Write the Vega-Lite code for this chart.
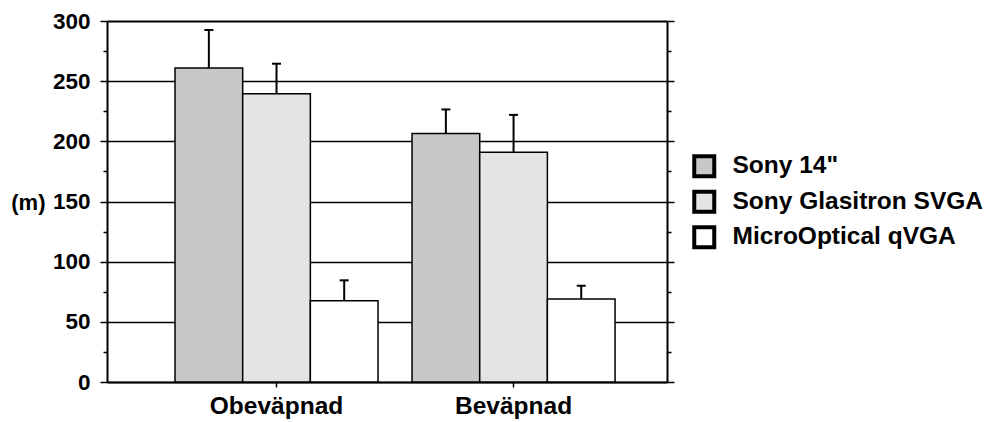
{
  "$schema": "https://vega.github.io/schema/vega-lite/v6.json",
  "width": 560,
  "height": 361,
  "autosize": "none",
  "padding": {"left": 107, "top": 21, "right": 321, "bottom": 40},
  "background": "white",
  "config": {"view": {"stroke": null}, "font": "Liberation Sans"},
  "data": {
    "values": [
      {"cond": "Obeväpnad", "display": "Sony 14\"", "value": 261, "upper": 292.5},
      {"cond": "Obeväpnad", "display": "Sony Glasitron SVGA", "value": 239.5, "upper": 264.5},
      {"cond": "Obeväpnad", "display": "MicroOptical qVGA", "value": 67.5, "upper": 84.5},
      {"cond": "Beväpnad", "display": "Sony 14\"", "value": 206.5, "upper": 226.5},
      {"cond": "Beväpnad", "display": "Sony Glasitron SVGA", "value": 191, "upper": 222},
      {"cond": "Beväpnad", "display": "MicroOptical qVGA", "value": 69, "upper": 80}
    ]
  },
  "encoding": {
    "x": {
      "field": "cond",
      "type": "nominal",
      "sort": ["Obeväpnad", "Beväpnad"],
      "scale": {"paddingInner": 0.1435, "paddingOuter": 0.253, "align": 0.567},
      "axis": {
        "title": null,
        "labelAngle": 0,
        "labelFont": "Liberation Sans",
        "labelFontSize": 24.5,
        "labelFontWeight": "bold",
        "labelColor": "black",
        "labelPadding": 7,
        "tickSize": 5,
        "tickColor": "black",
        "tickWidth": 1.5,
        "domainColor": "black",
        "domainWidth": 2
      }
    },
    "xOffset": {
      "field": "display",
      "type": "nominal",
      "sort": ["Sony 14\"", "Sony Glasitron SVGA", "MicroOptical qVGA"],
      "scale": {"paddingInner": 0, "paddingOuter": 0}
    }
  },
  "layer": [
    {
      "mark": {"type": "bar", "stroke": "black", "strokeWidth": 1.5},
      "encoding": {
        "y": {
          "field": "value",
          "type": "quantitative",
          "scale": {"domain": [0, 300], "nice": false},
          "axis": {
            "orient": "left",
            "title": "(m)",
            "titleAngle": 0,
            "titleAlign": "right",
            "titleBaseline": "middle",
            "titleX": -62,
            "titleY": 181,
            "titleFont": "Liberation Sans",
            "titleFontSize": 22,
            "titleFontWeight": "bold",
            "titleColor": "black",
            "values": [0, 25, 50, 75, 100, 125, 150, 175, 200, 225, 250, 275, 300],
            "labelExpr": "datum.value % 50 === 0 ? datum.label : ''",
            "labelOverlap": false,
            "labelFont": "Liberation Sans",
            "labelFontSize": 22.5,
            "labelFontWeight": "bold",
            "labelColor": "black",
            "labelPadding": 10,
            "tickSize": {"condition": {"test": "datum.value % 50 === 0", "value": 7}, "value": 4},
            "tickColor": "black",
            "tickWidth": 1.5,
            "domainColor": "black",
            "domainWidth": 2,
            "grid": true,
            "gridColor": "black",
            "gridWidth": {"condition": {"test": "datum.value === 300", "value": 2}, "value": 1.5},
            "gridOpacity": {"condition": {"test": "datum.value % 50 === 0", "value": 1}, "value": 0}
          }
        },
        "fill": {
          "field": "display",
          "type": "nominal",
          "sort": ["Sony 14\"", "Sony Glasitron SVGA", "MicroOptical qVGA"],
          "scale": {
            "domain": ["Sony 14\"", "Sony Glasitron SVGA", "MicroOptical qVGA"],
            "range": ["#c8c8c8", "#e4e4e4", "#ffffff"]
          },
          "legend": {
            "title": null,
            "orient": "none",
            "legendX": 585,
            "legendY": 133,
            "padding": 0,
            "symbolType": "square",
            "symbolSize": 400,
            "symbolStrokeColor": "black",
            "symbolStrokeWidth": 4,
            "symbolOpacity": 1,
            "labelFont": "Liberation Sans",
            "labelFontSize": 24.5,
            "labelFontWeight": "bold",
            "labelColor": "black",
            "labelLimit": 0,
            "labelOffset": 16,
            "rowPadding": -1.5
          }
        }
      }
    },
    {
      "mark": {"type": "rule", "color": "black", "strokeWidth": 2},
      "encoding": {
        "y": {
          "field": "value",
          "type": "quantitative",
          "axis": {
            "orient": "right",
            "title": null,
            "labels": false,
            "values": [0, 25, 50, 75, 100, 125, 150, 175, 200, 225, 250, 275, 300],
            "tickSize": {"condition": {"test": "datum.value % 50 === 0", "value": 7}, "value": 4},
            "tickColor": "black",
            "tickWidth": 1.5,
            "domainColor": "black",
            "domainWidth": 2,
            "grid": false
          }
        },
        "y2": {"field": "upper"}
      }
    },
    {
      "mark": {"type": "tick", "orient": "horizontal", "size": 9, "thickness": 2, "color": "black", "opacity": 1},
      "encoding": {
        "y": {"field": "upper", "type": "quantitative", "axis": null}
      }
    }
  ],
  "resolve": {"axis": {"y": "independent"}}
}
